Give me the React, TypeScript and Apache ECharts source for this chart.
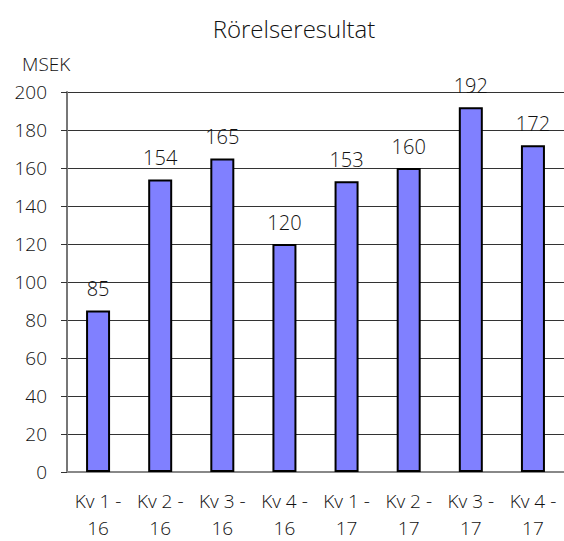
import React, { useEffect, useRef } from "react";
import * as echarts from "echarts";

const categories = ["Kv 1 -\n16", "Kv 2 -\n16", "Kv 3 -\n16", "Kv 4 -\n16", "Kv 1 -\n17", "Kv 2 -\n17", "Kv 3 -\n17", "Kv 4 -\n17"];
const values = [85, 154, 165, 120, 153, 160, 192, 172];
const titleText = "Rörelseresultat";
const unitText = "MSEK";

const FONT = "'Open Sans', 'Noto Sans', sans-serif";

export default function App() {
  const ref = useRef<HTMLDivElement>(null);
  useEffect(() => {
    if (!ref.current) return;
    const chart = echarts.init(ref.current, null, { renderer: "svg" });
    chart.setOption({
      animation: false,
      backgroundColor: "#fff",
      graphic: [
        {
          type: "text",
          x: 294,
          y: 28,
          style: {
            text: titleText,
            font: `300 24px ${FONT}`,
            fill: "#111",
            textAlign: "center",
            textVerticalAlign: "middle",
          },
        },
        {
          type: "text",
          x: 22,
          y: 64,
          style: { text: unitText, font: `300 19px ${FONT}`, fill: "#111", textVerticalAlign: "middle" },
        },
      ],
      grid: { left: 67, top: 92, width: 504, height: 384, containLabel: false },
      xAxis: {
        type: "category",
        data: categories,
        axisLine: { lineStyle: { color: "#888", width: 2 } },
        axisTick: { show: false },
        axisLabel: {
          fontFamily: FONT,
          fontWeight: 300,
          fontSize: 19,
          color: "#111",
          lineHeight: 27,
          margin: 15,
          interval: 0,
        },
      },
      yAxis: {
        type: "value",
        min: 0,
        max: 200,
        interval: 20,
        axisLine: { show: true, lineStyle: { color: "#777", width: 2 } },
        axisTick: { show: true, length: 6, lineStyle: { color: "#333" } },
        axisLabel: { fontFamily: FONT, fontWeight: 300, fontSize: 19, color: "#111", margin: 20 },
        splitLine: { lineStyle: { color: "#333", width: 1 } },
      },
      series: [
        {
          type: "bar",
          data: values,
          barWidth: 24,
          itemStyle: { color: "#8080FF", borderColor: "#000", borderWidth: 2 },
          label: {
            show: true,
            position: "top",
            distance: 12,
            fontFamily: FONT,
            fontWeight: 300,
            fontSize: 20,
            color: "#111",
          },
        },
      ],
    });
    return () => chart.dispose();
  }, []);
  return <div ref={ref} style={{ position: "fixed", left: 0, top: 0, width: 564, height: 541 }} />;
}
